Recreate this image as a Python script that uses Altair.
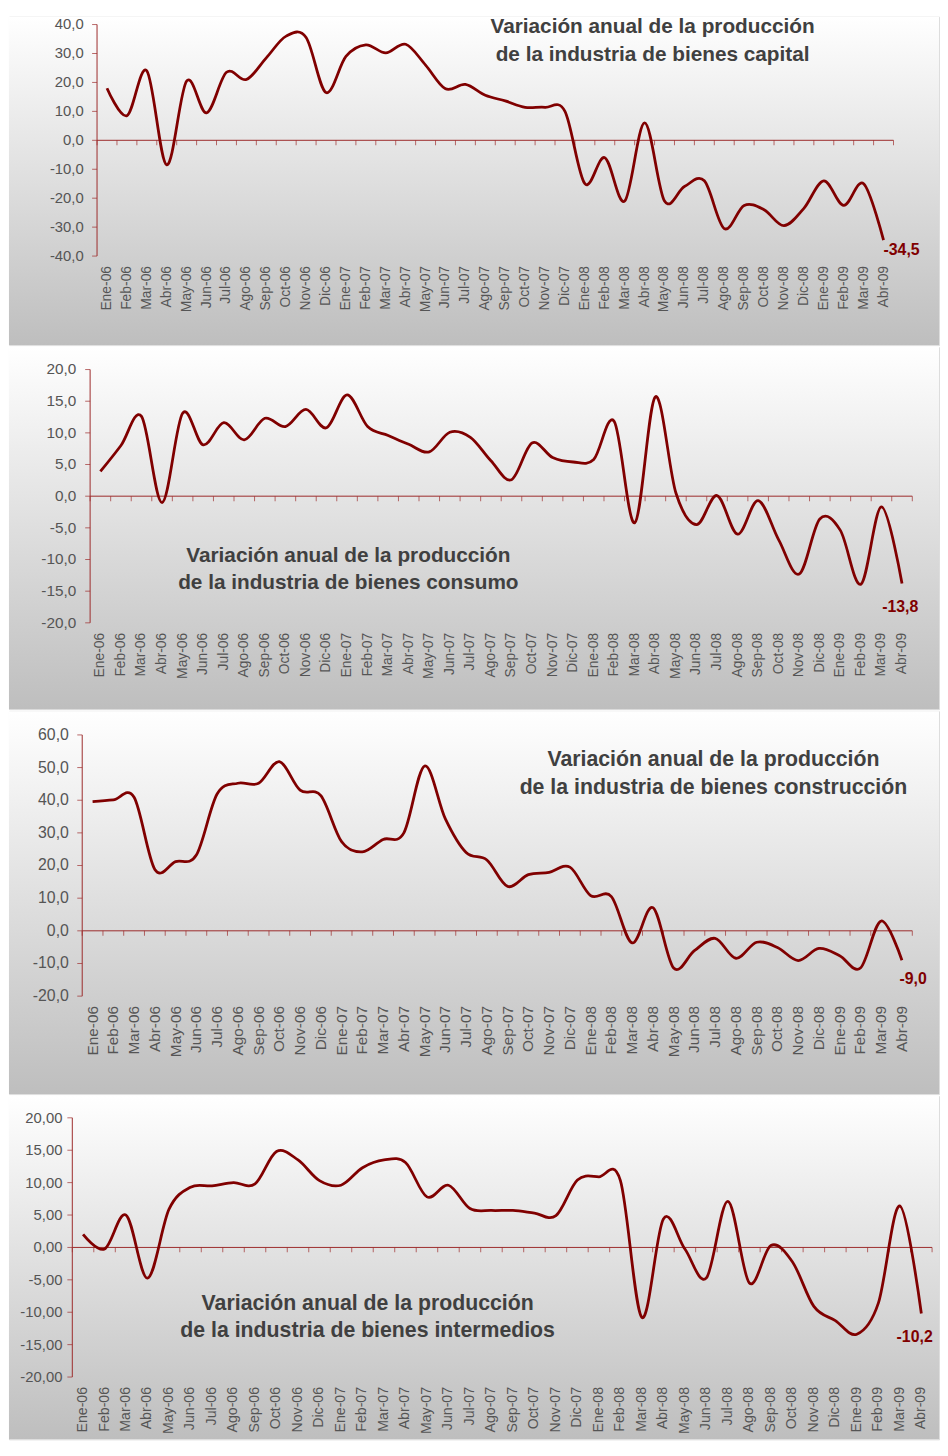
import altair as alt
import pandas as pd

# ---------------- data ----------------
months = [
    "Ene-06", "Feb-06", "Mar-06", "Abr-06", "May-06", "Jun-06", "Jul-06", "Ago-06", "Sep-06", "Oct-06", "Nov-06", "Dic-06",
    "Ene-07", "Feb-07", "Mar-07", "Abr-07", "May-07", "Jun-07", "Jul-07", "Ago-07", "Sep-07", "Oct-07", "Nov-07", "Dic-07",
    "Ene-08", "Feb-08", "Mar-08", "Abr-08", "May-08", "Jun-08", "Jul-08", "Ago-08", "Sep-08", "Oct-08", "Nov-08", "Dic-08",
    "Ene-09", "Feb-09", "Mar-09", "Abr-09",
]

capital = [18.0, 8.5, 24.0, -8.5, 20.5, 9.5, 23.5, 21.0, 28.5, 36.0, 35.5, 16.5,
           29.0, 33.0, 30.2, 33.2, 26.0, 17.8, 19.3, 15.6, 13.6, 11.4, 11.4, 10.0,
           -15.0, -6.0, -21.0, 6.0, -21.0, -16.0, -14.0, -30.5, -22.5, -24.0, -29.5, -23.5,
           -14.0, -22.5, -15.0, -34.5]

consumo = [3.9, 8.0, 12.6, -1.0, 13.1, 8.1, 11.6, 8.9, 12.3, 11.0, 13.7, 10.8,
           16.0, 11.0, 9.6, 8.2, 7.0, 10.1, 9.3, 5.6, 2.6, 8.4, 6.1, 5.4,
           5.8, 11.8, -4.2, 15.7, 0.5, -4.5, 0.1, -6.0, -0.7, -6.9, -12.3, -3.6,
           -5.4, -13.9, -1.7, -13.8]

construccion = [39.6, 40.1, 40.9, 18.8, 21.2, 23.2, 41.9, 45.2, 45.2, 51.8, 43.1, 41.4,
                27.3, 24.2, 28.0, 30.0, 50.5, 34.3, 24.0, 21.7, 13.6, 17.2, 17.9, 19.5,
                10.8, 10.5, -3.7, 7.1, -11.4, -6.1, -2.3, -8.4, -3.5, -5.1, -9.1, -5.4,
                -7.6, -11.4, 3.0, -9.0]

intermedios = [2.0, -0.25, 5.0, -4.75, 5.9, 9.3, 9.5, 10.0, 9.8, 14.8, 13.5, 10.3,
               9.6, 12.3, 13.5, 13.1, 7.8, 9.6, 6.0, 5.7, 5.7, 5.3, 4.9, 10.4,
               10.9, 10.3, -10.8, 4.4, -0.25, -4.7, 7.1, -5.5, 0.3, -2.2, -9.1, -11.3,
               -13.4, -8.6, 6.4, -10.2]

title_capital = ["Variación anual de la producción", "de la industria de  bienes capital"]
title_consumo = ["Variación anual de la producción", "de la industria de  bienes consumo"]
title_construccion = ["Variación anual de la producción", "de la industria de  bienes construcción"]
title_intermedios = ["Variación anual de la producción", "de la industria de bienes intermedios"]

# ---------------- style ----------------
LINE = "#800000"
AXIS = "#9C2B2B"
GREY = "#555555"
TITLE = "#404040"
FONT = "Liberation Sans"
PANEL_W = 940


def panel(values, ydom, ystep, decimals, H, L, w, top, bot, title_lines,
          tx, ty, tlh, tfs, adx, ady, xfs, yfs, ypad):
    n = len(months)
    lo_cat, hi_cat = -0.5, n - 0.5
    xs = alt.Scale(domain=[lo_cat, hi_cat], range=[L, L + w], nice=False, zero=False)
    ys = alt.Scale(domain=ydom, range=[bot, top], nice=False, zero=False)

    df = pd.DataFrame({"idx": list(range(n)), "mes": months, "valor": values})
    yvals = list(range(ydom[0], ydom[1] + 1, ystep))
    ytick_df = pd.DataFrame({
        "v": yvals,
        "x0": lo_cat,
        "lab": [("%.*f" % (decimals, v)).replace(".", ",") for v in yvals],
    })
    frame_df = pd.DataFrame({"x0": [lo_cat], "x1": [hi_cat], "lo": [ydom[0]], "hi": [ydom[1]], "z": [0]})
    bound_df = pd.DataFrame({"b": [i - 0.5 for i in range(n + 1)], "z": 0})

    one = alt.Data(values=[{"k": 0}])

    bg = alt.Chart(one).mark_rect(
        fill=alt.LinearGradient(
            gradient="linear",
            stops=[alt.GradientStop(color="#FFFFFF", offset=0),
                   alt.GradientStop(color="#BEBEBE", offset=1)],
            x1=0, x2=0, y1=0, y2=1),
        strokeWidth=0,
    ).encode(x=alt.value(0), x2=alt.value(PANEL_W), y=alt.value(0), y2=alt.value(H))

    X = lambda f: alt.X(f, scale=xs, axis=None)
    Y = lambda f: alt.Y(f, scale=ys, axis=None)

    # y axis line, ticks and labels
    ydomain = alt.Chart(frame_df).mark_rule(color=AXIS, strokeWidth=1).encode(
        x=X("x0:Q"), y=Y("lo:Q"), y2="hi:Q")
    yticks = alt.Chart(ytick_df).mark_tick(
        orient="horizontal", size=5, thickness=1, xOffset=-2.5, color=AXIS
    ).encode(x=X("x0:Q"), y=Y("v:Q"))
    ylabels = alt.Chart(ytick_df).mark_text(
        align="right", baseline="middle", dx=-(5 + ypad), font=FONT, fontSize=yfs, color=GREY
    ).encode(x=X("x0:Q"), y=Y("v:Q"), text="lab:N")

    # zero line with category ticks hanging below
    zero = alt.Chart(frame_df).mark_rule(color=AXIS, strokeWidth=1).encode(
        x=X("x0:Q"), x2="x1:Q", y=Y("z:Q"))
    zticks = alt.Chart(bound_df).mark_tick(
        orient="vertical", size=5, thickness=1, yOffset=2.5, color=AXIS
    ).encode(x=X("b:Q"), y=Y("z:Q"))

    # month labels at the bottom
    xlabels = alt.Chart(df).mark_text(
        angle=270, align="right", baseline="middle", font=FONT, fontSize=xfs, color=GREY
    ).encode(x=X("idx:Q"), y=alt.value(bot + 10), text="mes:N")

    line = alt.Chart(df).mark_line(
        color=LINE, strokeWidth=2.8, interpolate="cardinal"
    ).encode(x=X("idx:Q"), y=Y("valor:Q"))

    last = df.tail(1).copy()
    last["txt"] = [("%.1f" % v).replace(".", ",") for v in last["valor"]]
    annot = alt.Chart(last).mark_text(
        align="left", baseline="middle", dx=adx, dy=ady, font=FONT,
        fontSize=16, fontWeight="bold", color=LINE
    ).encode(x=X("idx:Q"), y=Y("valor:Q"), text="txt:N")

    titles = []
    for i, t in enumerate(title_lines):
        titles.append(alt.Chart(one).mark_text(
            text=t, align="center", baseline="middle", font=FONT,
            fontSize=tfs, fontWeight="bold", color=TITLE
        ).encode(x=alt.value(tx), y=alt.value(ty + i * tlh)))

    return alt.layer(bg, zero, zticks, ydomain, yticks, ylabels, xlabels, line, annot, *titles
                     ).properties(width=PANEL_W, height=H)


p1 = panel(capital, [-40, 40], 10, 1, 332, 89, 805, 8, 242, title_capital,
           650.5, 11, 28, 21, 0, 10, 14, 15, 8.5)
p2 = panel(consumo, [-20, 20], 5, 1, 366, 82, 831, 22.7, 278.7, title_consumo,
           343, 211, 28, 21, -20, 24, 14, 15.5, 9)
p3 = panel(construccion, [-20, 60], 10, 1, 387, 74, 839, 24, 288, title_construccion,
           712, 49, 29, 21.5, -2.5, 19, 15.5, 16, 8.5)
p4 = panel(intermedios, [-20, 20], 5, 2, 347, 64, 869, 22, 284, title_intermedios,
           362.5, 210, 28, 21.5, -25, 24, 14.3, 15, 5)

chart = alt.vconcat(p1, p2, p3, p4, spacing=0).properties(padding=0).configure_view(
    strokeWidth=0).configure(font=FONT)

chart.save("out.html", embed_options={"renderer": "svg", "actions": False})
